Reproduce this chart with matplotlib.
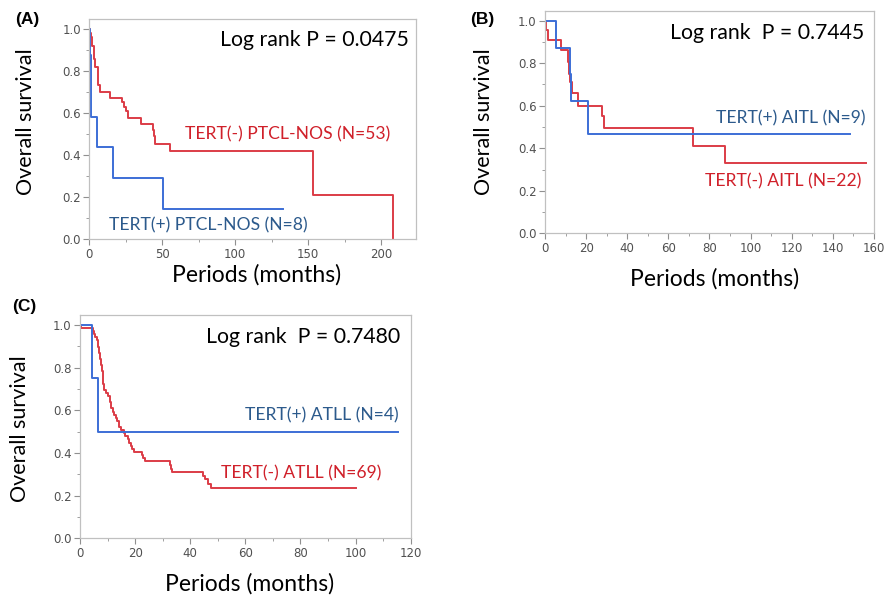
import matplotlib
matplotlib.use('Agg')
from matplotlib import pyplot as plt
from matplotlib.ticker import MultipleLocator

plt.rcParams['font.family'] = ['Lato', 'DejaVu Sans']

#Colours
red_line = '#dc3c46'
blue_line = '#3c6ed6'
red_text = '#d0202a'
blue_text = '#2c5a8c'

#(A) PTCL-NOS : event times (months) and survival after each event
a_neg_t = [0.5, 1.2, 2.0, 3.0, 4.0, 6.2, 7.5, 14.2, 22.3, 24.0, 25.5, 26.4, 35.6, 44.0, 44.6, 45.0, 55.5, 153.7, 208.5]
a_neg_s = [0.98, 0.965, 0.92, 0.86, 0.82, 0.735, 0.70, 0.673, 0.653, 0.63, 0.613, 0.575, 0.548, 0.52, 0.49, 0.455, 0.418, 0.209, 0.0]
a_neg_end = 208.5
a_pos_t = [0.5, 1.0, 5.5, 16.5, 50.5]
a_pos_s = [0.875, 0.584, 0.44, 0.29, 0.146]
a_pos_end = 133.0

#(B) AITL
b_neg_t = [0.5, 1.5, 7.6, 11.3, 11.8, 12.3, 12.9, 16.0, 27.7, 28.5, 72.0, 87.4]
b_neg_s = [0.955, 0.909, 0.862, 0.807, 0.75, 0.71, 0.66, 0.60, 0.55, 0.494, 0.41, 0.329]
b_neg_end = 156.0
b_pos_t = [5.2, 12.0, 12.5, 21.0]
b_pos_s = [0.873, 0.75, 0.622, 0.467]
b_pos_end = 148.4

#(C) ATLL
c_neg_t = [0.3, 4.6, 5.0, 5.6, 6.0, 6.4, 6.7, 7.0, 7.3, 7.6, 7.9, 8.2, 8.5, 8.8, 9.6, 10.3, 10.8, 11.2,
           11.8, 12.5, 13.0, 13.6, 14.2, 15.0, 15.8, 16.2, 17.4, 17.9, 18.4, 19.0, 19.5, 22.5, 23.0, 23.5,
           32.5, 33.0, 33.5, 44.5, 45.5, 46.5, 47.5]
c_neg_s = [0.986, 0.971, 0.957, 0.942, 0.928, 0.913, 0.899, 0.870, 0.841, 0.812, 0.783, 0.754, 0.725, 0.696,
           0.681, 0.667, 0.638, 0.609, 0.594, 0.580, 0.565, 0.551, 0.522, 0.507, 0.493, 0.478, 0.464, 0.449,
           0.435, 0.420, 0.406, 0.391, 0.377, 0.362, 0.345, 0.327, 0.313, 0.294, 0.276, 0.255, 0.236]
c_neg_end = 100.0
c_pos_t = [4.5, 6.7]
c_pos_s = [0.75, 0.5]
c_pos_end = 115.5

#Helper to draw one Kaplan-Meier curve as a step line
def km_step(ax, times, surv, end, color):
    x = [0.0] + times + [end]
    y = [1.0] + surv + [surv[-1]]
    ax.plot(x, y, drawstyle='steps-post', color=color, lw=1.4)

def style_axes(ax, xmax, xmajor, xminor):
    ax.set_xlim(0, xmax)
    ax.set_ylim(0, 1.047)
    ax.xaxis.set_major_locator(MultipleLocator(xmajor))
    ax.xaxis.set_minor_locator(MultipleLocator(xminor))
    ax.yaxis.set_major_locator(MultipleLocator(0.2))
    ax.yaxis.set_minor_locator(MultipleLocator(0.1))
    ax.yaxis.set_major_formatter(lambda v, p: '%.1f' % v)
    for s in ax.spines.values():
        s.set_color('#c0c0c0')
        s.set_linewidth(0.9)
    ax.tick_params(which='major', length=4, width=0.8, color='#909090', labelsize=8.5,
                   labelcolor='#505050', pad=2)
    ax.tick_params(which='minor', length=2, width=0.7, color='#a0a0a0')
    for lab in ax.get_xticklabels() + ax.get_yticklabels():
        lab.set_family('DejaVu Sans')

fig = plt.figure(figsize=(8.93, 5.98), dpi=100)

lr_size = 15.3
grp_size = 12.6

axA = fig.add_axes([0.1, 0.5998, 0.3658, 0.3679])
km_step(axA, a_neg_t, a_neg_s, a_neg_end, red_line)
km_step(axA, a_pos_t, a_pos_s, a_pos_end, blue_line)
style_axes(axA, 224, 50, 25)
axA.text(219, 0.95, 'Log rank P = 0.0475', ha='right', va='center', fontsize=lr_size)
axA.text(135.7, 0.50, 'TERT(-) PTCL-NOS (N=53)', ha='center', va='center', fontsize=grp_size, color=red_text)
axA.text(81.7, 0.068, 'TERT(+) PTCL-NOS (N=8)', ha='center', va='center', fontsize=grp_size, color=blue_text)

axB = fig.add_axes([0.6103, 0.6099, 0.3684, 0.3722])
km_step(axB, b_neg_t, b_neg_s, b_neg_end, red_line)
km_step(axB, b_pos_t, b_pos_s, b_pos_end, blue_line)
style_axes(axB, 160, 20, 10)
axB.text(108.2, 0.94, 'Log rank  P = 0.7445', ha='center', va='center', fontsize=lr_size)
axB.text(119.4, 0.54, 'TERT(+) AITL (N=9)', ha='center', va='center', fontsize=grp_size, color=blue_text)
axB.text(115.9, 0.246, 'TERT(-) AITL (N=22)', ha='center', va='center', fontsize=grp_size, color=red_text)

axC = fig.add_axes([0.0896, 0.0998, 0.3703, 0.3734])
km_step(axC, c_neg_t, c_neg_s, c_neg_end, red_line)
km_step(axC, c_pos_t, c_pos_s, c_pos_end, blue_line)
style_axes(axC, 120, 20, 10)
axC.text(81.1, 0.943, 'Log rank  P = 0.7480', ha='center', va='center', fontsize=lr_size)
axC.text(87.8, 0.576, 'TERT(+) ATLL (N=4)', ha='center', va='center', fontsize=grp_size, color=blue_text)
axC.text(80.4, 0.303, 'TERT(-) ATLL (N=69)', ha='center', va='center', fontsize=grp_size, color=red_text)

#Panel letters and axis titles
for x, y, s in [(0.031, 0.968, '(A)'), (0.5403, 0.968, '(B)'), (0.0269, 0.4875, '(C)')]:
    fig.text(x, y, s, ha='center', va='center', fontsize=12.5, fontweight='bold', family='Liberation Sans')
for x, y in [(0.029, 0.796), (0.542, 0.796), (0.0224, 0.2826)]:
    fig.text(x, y, 'Overall survival', ha='center', va='center', rotation=90, fontsize=15.5)
for x, y in [(0.2878, 0.540), (0.8007, 0.5343), (0.28, 0.0243)]:
    fig.text(x, y, 'Periods (months)', ha='center', va='center', fontsize=16.5)

fig.savefig('out.png', dpi=100)
